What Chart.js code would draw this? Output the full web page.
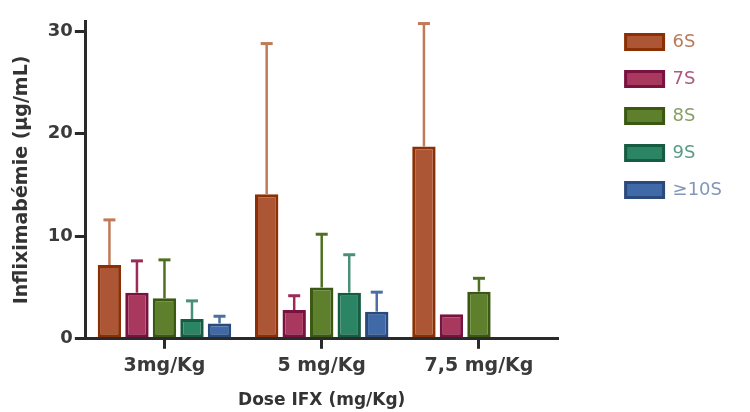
<!DOCTYPE html>
<html>
<head>
<meta charset="utf-8">
<script src="https://cdn.jsdelivr.net/npm/chart.js@4/dist/chart.umd.min.js"></script>
<style>
  html, body { margin: 0; padding: 0; background: #ffffff; }
  #wrap { width: 750px; height: 412px; position: relative; }
</style>
</head>
<body>
<div id="wrap"><canvas id="c" width="750" height="412"></canvas></div>
<script>
// ---- data ----
const categories = ["3mg/Kg", "5 mg/Kg", "7,5 mg/Kg"];
const seriesNames = ["6S", "7S", "8S", "9S", "\u226510S"];
const mean6S  = [7.2, 14.1, 18.75];
const mean7S  = [4.5, 2.8, 2.4];
const mean8S  = [3.95, 5.0, 4.6];
const mean9S  = [1.93, 4.5, null];
const mean10S = [1.5, 2.65, null];
const sd6S  = [4.4, 14.7, 12.0];
const sd7S  = [3.1, 1.4, 0];
const sd8S  = [3.75, 5.2, 1.3];
const sd9S  = [1.77, 3.7, null];
const sd10S = [0.7, 1.9, null];
const yTicks = [0, 10, 20, 30];

// ---- styles ----
const fills   = ["#ad5636", "#a9385f", "#5e7f2c", "#2b8464", "#4069a8"];
const borders = ["#8a3004", "#7a123f", "#3a5812", "#165c42", "#2a4a7c"];
const errCols = ["#c07a58", "#9a2a58", "#4f7020", "#4a8f78", "#4a6fa0"];
const textCols= ["#b87a5c", "#b05680", "#879e66", "#5a9c84", "#8296b8"];

const means = [mean6S, mean7S, mean8S, mean9S, mean10S];
const sds = [sd6S, sd7S, sd8S, sd9S, sd10S];

const datasets = seriesNames.map((n, i) => ({
  label: n,
  data: means[i],
  backgroundColor: fills[i],
  borderColor: borders[i],
  borderWidth: 3,
  borderSkipped: false,
  barPercentage: 0.85,
  categoryPercentage: 0.875
}));

const errorBars = {
  id: 'errorBars',
  afterDatasetsDraw(chart) {
    const ctx = chart.ctx;
    const y = chart.scales.y;
    chart.data.datasets.forEach((ds, di) => {
      const meta = chart.getDatasetMeta(di);
      meta.data.forEach((bar, i) => {
        const m = means[di][i], s = sds[di][i];
        if (m == null || s == null || s <= 0) return;
        const x = bar.x;
        const y0 = y.getPixelForValue(m);
        const y1 = y.getPixelForValue(m + s);
        ctx.save();
        ctx.strokeStyle = errCols[di];
        ctx.lineWidth = 2.5;
        ctx.beginPath();
        ctx.moveTo(x, y0);
        ctx.lineTo(x, y1);
        ctx.stroke();
        ctx.lineWidth = 3;
        ctx.beginPath();
        ctx.moveTo(x - 6, y1);
        ctx.lineTo(x + 6, y1);
        ctx.stroke();
        ctx.restore();
      });
    });
  }
};

const legendShift = {
  id: 'legendShift',
  afterLayout(chart) {
    const lg = chart.legend;
    if (!lg) return;
    lg.left += 49; lg.right += 49;
    lg.top -= 7; lg.bottom -= 7;
  }
};

new Chart(document.getElementById('c'), {
  type: 'bar',
  data: { labels: categories, datasets: datasets },
  plugins: [errorBars, legendShift],
  options: {
    responsive: false,
    animation: false,
    layout: { padding: { left: 11, right: 67, top: 21, bottom: 1 } },
    plugins: {
      tooltip: { enabled: false },
      legend: {
        position: 'right',
        align: 'start',
        labels: {
          boxWidth: 38,
          boxHeight: 15,
          padding: 19,
          font: { family: 'DejaVu Sans', size: 18 },
          generateLabels(chart) {
            return chart.data.datasets.map((ds, i) => ({
              text: ds.label,
              fillStyle: fills[i],
              strokeStyle: borders[i],
              lineWidth: 3,
              fontColor: textCols[i],
              datasetIndex: i,
              hidden: false
            }));
          }
        }
      }
    },
    scales: {
      x: {
        z: 1,
        border: { display: true, color: '#2a2a2a', width: 3 },
        grid: { display: true, drawOnChartArea: false, drawTicks: true, offset: false, tickLength: 10, color: '#2a2a2a', lineWidth: 3 },
        ticks: { color: '#3a3a3a', padding: 6, font: { family: 'DejaVu Sans', size: 19, weight: 'bold' } },
        title: { display: true, text: 'Dose IFX (mg/Kg)', color: '#333', padding: { top: 7, bottom: 0 }, font: { family: 'DejaVu Sans', size: 17, weight: 'bold' } }
      },
      y: {
        z: 1,
        min: 0,
        max: 31,
        afterBuildTicks(scale) { scale.ticks = yTicks.map(v => ({ value: v })); },
        border: { display: true, color: '#2a2a2a', width: 3 },
        grid: { display: true, drawOnChartArea: false, drawTicks: true, tickLength: 11, color: '#2a2a2a', lineWidth: 3 },
        ticks: { color: '#3a3a3a', padding: 2, font: { family: 'DejaVu Sans', size: 18, weight: 'bold' } },
        title: { display: true, text: 'Infliximabémie (µg/mL)', color: '#333', padding: { top: 0, bottom: 12 }, font: { family: 'DejaVu Sans', size: 19, weight: 'bold' } }
      }
    }
  }
});
</script>
</body>
</html>
